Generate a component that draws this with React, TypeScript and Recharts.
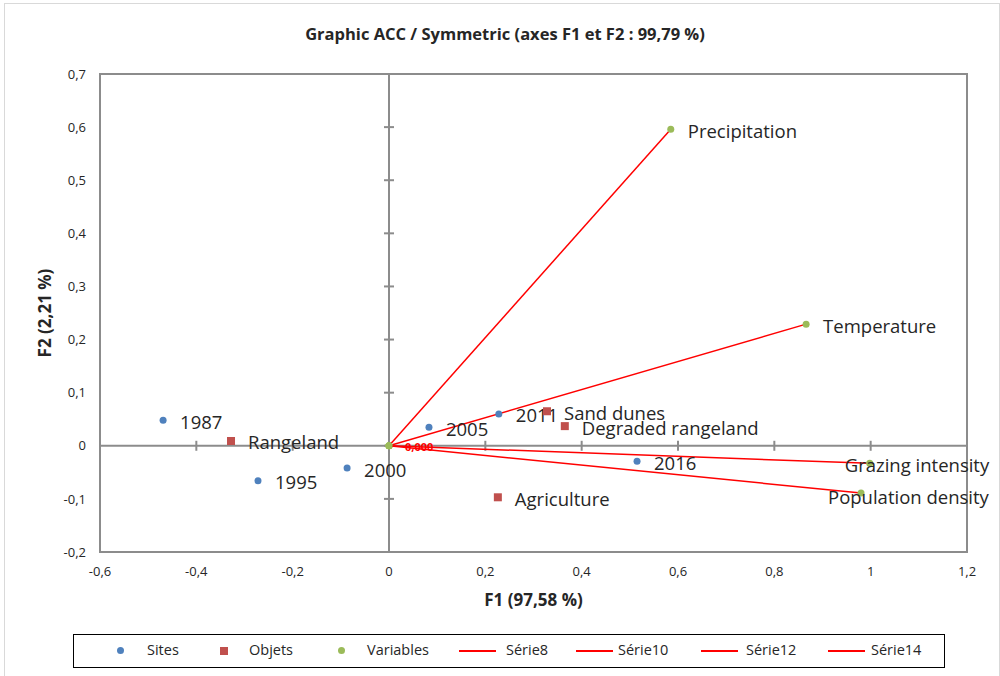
import React from 'react';
import { ScatterChart, Scatter, XAxis, YAxis, ReferenceLine, ReferenceArea, Legend, Label } from 'recharts';

// CA biplot, axes F1/F2
const siteNames = ['1987', '1995', '2000', '2005', '2011', '2016'];
const siteF1 = [-0.469, -0.272, -0.087, 0.083, 0.228, 0.515];
const siteF2 = [0.048, -0.066, -0.042, 0.035, 0.06, -0.029];

const objetNames = ['Rangeland', 'Sand dunes', 'Degraded rangeland', 'Agriculture'];
const objetF1 = [-0.328, 0.328, 0.365, 0.226];
const objetF2 = [0.009, 0.065, 0.037, -0.097];

const variableNames = ['Precipitation', 'Temperature', 'Grazing intensity', 'Population density'];
const variableF1 = [0.585, 0.866, 0.998, 0.98];
const variableF2 = [0.596, 0.229, -0.033, -0.089];

const lineSeriesNames = ['Série8', 'Série10', 'Série12', 'Série14'];

const xTicks = [-0.6, -0.4, -0.2, 0, 0.2, 0.4, 0.6, 0.8, 1, 1.2];
const xTickLabels = ['-0,6', '-0,4', '-0,2', '0', '0,2', '0,4', '0,6', '0,8', '1', '1,2'];
const yTicks = [-0.2, -0.1, 0, 0.1, 0.2, 0.3, 0.4, 0.5, 0.6, 0.7];
const yTickLabels = ['-0,2', '-0,1', '0', '0,1', '0,2', '0,3', '0,4', '0,5', '0,6', '0,7'];

const BLUE = '#4F81BD';
const BROWN = '#C0504D';
const GREEN = '#9BBB59';
const RED = '#FF0000';
const AXIS = '#8C8C8C';
const TEXT = '#262626';
const font = "'Open Sans', sans-serif";

// label placement tweaks (Excel pushed these back inside the plot)
const labelShift: Record<string, [number, number]> = {
  'Grazing intensity': [-25, 1],
  'Population density': [-33, 3],
};

const toPoints = (names: string[], f1: number[], f2: number[]) =>
  names.map((name, i) => ({ name, f1: f1[i], f2: f2[i] }));

const sites = toPoints(siteNames, siteF1, siteF2);
const objets = toPoints(objetNames, objetF1, objetF2);
const variables = toPoints(variableNames, variableF1, variableF2);
const vectors = variables.map((v) => [
  { name: '', f1: 0, f2: 0, origin: true },
  { ...v, origin: false },
]);

const PointLabel = ({ cx, cy, name }: any) => {
  const [dx, dy] = labelShift[name] || [17, 1];
  return (
    <text x={cx + dx} y={cy + dy} fontSize={18.5} fill={TEXT} fontFamily={font} dominantBaseline="central">
      {name}
    </text>
  );
};

const dotShape = (color: string) => (props: any) => (
  <g>
    <circle cx={props.cx} cy={props.cy} r={3.5} fill={color} />
    <PointLabel cx={props.cx} cy={props.cy} name={props.payload.name} />
  </g>
);

const squareShape = (props: any) => (
  <g>
    <rect x={props.cx - 4} y={props.cy - 4} width={8} height={8} fill={BROWN} />
    <PointLabel cx={props.cx} cy={props.cy} name={props.payload.name} />
  </g>
);

const vectorShape = (showZero: boolean) => (props: any) => {
  if (!props.payload.origin) return <g />;
  return (
    <g>
      <circle cx={props.cx} cy={props.cy} r={3.5} fill={GREEN} />
      {showZero && (
        <text x={props.cx + 16} y={props.cy + 1} fontSize={11} fontWeight="bold" fill={RED} fontFamily={font} dominantBaseline="central">
          0,000
        </text>
      )}
    </g>
  );
};

// marker x and text x, relative to the legend box
const legendItems = [
  { label: 'Sites', kind: 'dot', color: BLUE, mx: 46, tx: 73 },
  { label: 'Objets', kind: 'square', color: BROWN, mx: 150, tx: 175 },
  { label: 'Variables', kind: 'dot', color: GREEN, mx: 267, tx: 293 },
  ...lineSeriesNames.map((n, i) => ({ label: n, kind: 'line', color: RED, mx: [385, 502, 627, 754][i], tx: [432, 544, 672, 797][i] })),
];

const LegendBox = () => (
  <div
    style={{
      position: 'relative',
      boxSizing: 'border-box',
      height: 34,
      width: 872,
      border: '1.5px solid #000',
      fontFamily: font,
      fontSize: 14.5,
      color: TEXT,
      background: '#fff',
    }}
  >
    {legendItems.map((it) => (
      <React.Fragment key={it.label}>
        {it.kind === 'dot' && (
          <span style={{ position: 'absolute', left: it.mx - 3.5, top: 12, width: 7, height: 7, borderRadius: 4, background: it.color }} />
        )}
        {it.kind === 'square' && (
          <span style={{ position: 'absolute', left: it.mx - 4, top: 11.5, width: 8, height: 8, background: it.color }} />
        )}
        {it.kind === 'line' && (
          <span style={{ position: 'absolute', left: it.mx, top: 14.5, width: 37, height: 2, background: it.color }} />
        )}
        <span style={{ position: 'absolute', left: it.tx, top: 5, lineHeight: '20px' }}>{it.label}</span>
      </React.Fragment>
    ))}
  </div>
);

const XTitle = ({ viewBox }: any) => (
  <text
    x={viewBox.x + viewBox.width / 2}
    y={viewBox.y + 54}
    textAnchor="middle"
    fontSize={17}
    fontWeight="bold"
    fill={TEXT}
    fontFamily={font}
  >
    F1 (97,58 %)
  </text>
);

const YTitle = ({ viewBox }: any) => {
  const cx = 51;
  const cy = viewBox.y + viewBox.height / 2;
  return (
    <text
      x={cx}
      y={cy}
      transform={`rotate(-90, ${cx}, ${cy})`}
      textAnchor="middle"
      fontSize={17}
      fontWeight="bold"
      fill={TEXT}
      fontFamily={font}
    >
      F2 (2,21 %)
    </text>
  );
};

const tickX = 0.0104;
const tickY = 0.0094;

export default function App() {
  return (
    <div style={{ position: 'fixed', left: 0, top: 0, width: 1000, height: 676, background: '#fff', overflow: 'hidden' }}>
      <div
        style={{
          position: 'absolute',
          left: 4,
          top: 3,
          width: 994,
          height: 700,
          border: '1px solid #D9D9D9',
        }}
      />
      <div
        style={{
          position: 'absolute',
          left: 5,
          top: 22,
          width: 1000,
          textAlign: 'center',
          fontFamily: font,
          fontWeight: 'bold',
          fontSize: 16.5,
          color: TEXT,
        }}
      >
        Graphic ACC / Symmetric (axes F1 et F2 : 99,79 %)
      </div>
      <div style={{ position: 'absolute', left: 0, top: 0 }}>
        <ScatterChart width={1000} height={676} margin={{ top: 74, right: 33, bottom: 8, left: 40 }}>
          <XAxis
            type="number"
            dataKey="f1"
            domain={[-0.6, 1.2]}
            ticks={xTicks}
            tickFormatter={(v: number) => xTickLabels[xTicks.indexOf(v)] ?? String(v)}
            axisLine={false}
            tickLine={false}
            tickMargin={9}
            tick={{ fill: TEXT, fontSize: 13, fontFamily: font }}
            height={82}
          >
            <Label content={XTitle} />
          </XAxis>
          <YAxis
            type="number"
            dataKey="f2"
            domain={[-0.2, 0.7]}
            ticks={yTicks}
            tickFormatter={(v: number) => yTickLabels[yTicks.indexOf(v)] ?? String(v)}
            axisLine={false}
            tickLine={false}
            tickMargin={8}
            tick={{ fill: TEXT, fontSize: 13, fontFamily: font }}
            width={60}
          >
            <Label content={YTitle} />
          </YAxis>
          <ReferenceArea x1={-0.6} x2={1.2} y1={-0.2} y2={0.7} fill="none" stroke={AXIS} strokeWidth={2} />
          <ReferenceLine x={0} stroke={AXIS} strokeWidth={2} />
          <ReferenceLine y={0} stroke={AXIS} strokeWidth={2} />
          {yTicks.map((t) => (
            <ReferenceLine
              key={'yt' + t}
              segment={[{ x: -tickX, y: t }, { x: tickX, y: t }]}
              stroke={AXIS}
              strokeWidth={2}
              ifOverflow="visible"
            />
          ))}
          {xTicks.map((t) => (
            <ReferenceLine
              key={'xt' + t}
              segment={[{ x: t, y: -tickY }, { x: t, y: tickY }]}
              stroke={AXIS}
              strokeWidth={2}
              ifOverflow="visible"
            />
          ))}
          {vectors.map((d, i) => (
            <Scatter
              key={lineSeriesNames[i]}
              name={lineSeriesNames[i]}
              data={d}
              line={{ stroke: RED, strokeWidth: 1.5 }}
              shape={vectorShape(i === 0)}
              isAnimationActive={false}
            />
          ))}
          <Scatter name="Sites" data={sites} shape={dotShape(BLUE)} isAnimationActive={false} />
          <Scatter name="Objets" data={objets} shape={squareShape} isAnimationActive={false} />
          <Scatter name="Variables" data={variables} shape={dotShape(GREEN)} isAnimationActive={false} />
          <Legend verticalAlign="bottom" content={LegendBox} wrapperStyle={{ left: 73, width: 872 }} />
        </ScatterChart>
      </div>
    </div>
  );
}
